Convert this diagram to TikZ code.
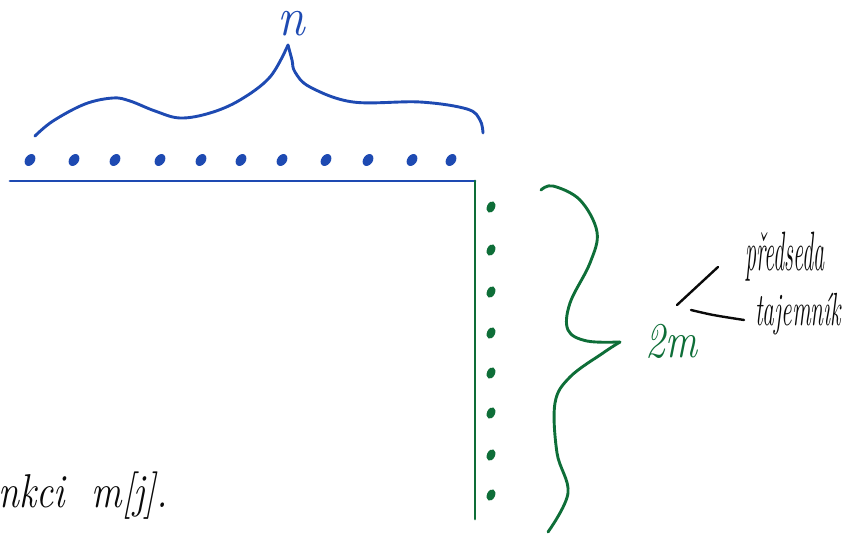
\documentclass[tikz,border=0pt]{standalone}
\usetikzlibrary{shapes.geometric}
\definecolor{inkblue}{RGB}{30,74,178}
\definecolor{inkgreen}{RGB}{14,110,56}
\definecolor{inkblack}{RGB}{10,10,10}
\tikzset{
  pen/.style={line width=2.9pt, line cap=round, line join=round},
  dotb/.style={ellipse, fill=inkblue, draw=none, inner sep=0pt, minimum width=13pt, minimum height=9.5pt, rotate=55},
  dotg/.style={ellipse, fill=inkgreen, draw=none, inner sep=0pt, minimum width=12pt, minimum height=8pt, rotate=65},
  hand/.style={inner sep=0pt, font=\itshape}
}
\begin{document}
\begin{tikzpicture}[x=1pt,y=-1pt]
\useasboundingbox (0,0) rectangle (854,533);
\clip (0,0) rectangle (854,533);

% axes
\coordinate (hl) at (10,181);
\coordinate (corner) at (475,181);
\coordinate (vb) at (475,519);
\draw[pen, inkblue] (hl) -- (corner);
\draw[pen, inkgreen] (corner) -- (vb);

% row of n elements
\foreach \x [count=\i] in {30,74,115,160,201,241,282,326,368,412,451}
  \node[dotb] (b\i) at (\x,160) {};

% column of 2m elements
\foreach \y [count=\i] in {207,250,292,333,373,413,455,495}
  \node[dotg] (g\i) at (491,\y) {};

% brace over the row
\draw[pen, inkblue] plot[smooth, tension=0.6] coordinates {
  (35,136) (53,121) (85,104) (113,98) (130,101) (155,111) (180,118)
  (210,113) (240,100) (270,77) (288,45)};
\draw[pen, inkblue] plot[smooth, tension=0.6] coordinates {
  (288,45) (292,60) (295,72) (310,87) (353,102) (420,102) (467,109) (480,120) (483,133)};
\node[hand, text=inkblue, anchor=base] (n) at (291,35)
  {\fontsize{50}{50}\selectfont\scalebox{1}[1.1]{n}};

% brace beside the column
\draw[pen, inkgreen] plot[smooth, tension=0.6] coordinates {
  (541,190) (553,186) (580,200) (597,232) (590,263) (570,303) (568,330)
  (587,341) (620,342)};
\draw[pen, inkgreen] plot[smooth, tension=0.6] coordinates {
  (620,342) (603,353) (570,377) (555,403) (557,453) (568,493) (548,532)};
\node[hand, text=inkgreen, anchor=base west] (twom) at (645,357)
  {\fontsize{40}{40}\selectfont\scalebox{1}[1.25]{2m}};

% the two roles
\node[hand, text=inkblack, anchor=base west] (pred) at (745,270)
  {\fontsize{30}{30}\selectfont\scalebox{0.74}[1.85]{předseda}};
\node[hand, text=inkblack, anchor=base west] (taj) at (755,325)
  {\fontsize{30}{30}\selectfont\scalebox{0.78}[1.55]{tajemník}};
\coordinate (s1) at (677,305);
\coordinate (e1) at (718,267);
\coordinate (s2) at (691,310);
\coordinate (e2) at (744,320);
\draw[pen, inkblack, line width=2.4pt] (s1) -- (e1);
\draw[pen, inkblack, line width=2.4pt] (s2) .. controls (712,315) .. (e2);

% note at the bottom left
\node[hand, text=inkblack, anchor=base east] (note) at (168,507)
  {\fontsize{38}{38}\selectfont\scalebox{1}[1.25]{funkci\ \ m[j].}};
\end{tikzpicture}
\end{document}
